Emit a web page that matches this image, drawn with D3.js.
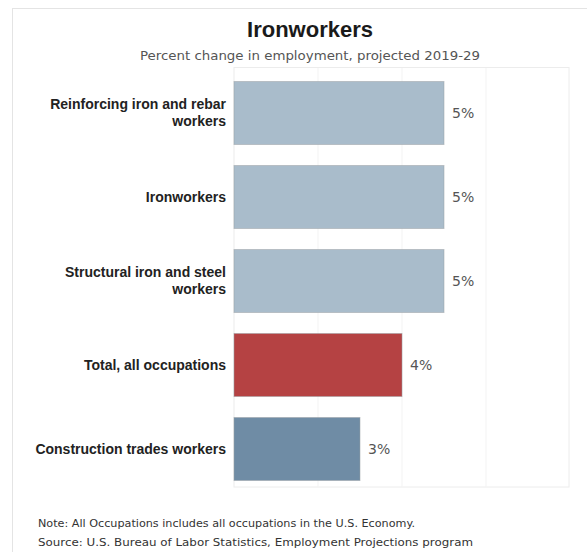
<!DOCTYPE html>
<html><head><meta charset="utf-8">
<script src="https://cdn.jsdelivr.net/npm/d3@7"></script>
<style>body{margin:0;background:#fff;} svg{display:block;}</style>
</head><body>
<script>
const categories = [
  ["Reinforcing iron and rebar", "workers"],
  ["Ironworkers"],
  ["Structural iron and steel", "workers"],
  ["Total, all occupations"],
  ["Construction trades workers"]
];
const values = [5, 5, 5, 4, 3];
const valueLabels = ["5%", "5%", "5%", "4%", "3%"];
const barColors = ["#a9bccb", "#a9bccb", "#a9bccb", "#b54243", "#6f8ca5"];
const gridTicks = [2, 4, 6];

const W = 587, H = 552;
const svg = d3.select("body").append("svg").attr("width", W).attr("height", H);

// outer frame
svg.append("rect").attr("x", 12.5).attr("y", 8.5).attr("width", 600).attr("height", 600)
  .attr("fill", "none").attr("stroke", "#e4e4e4");

const x = d3.scaleLinear().domain([0, 8]).range([234, 570]);
const y = d3.scaleBand().domain(d3.range(categories.length)).range([71, 491])
  .paddingInner(0.25).paddingOuter(0.125);

// plot frame
svg.append("rect").attr("x", 234).attr("y", 67.5).attr("width", 335).attr("height", 419.5)
  .attr("fill", "none").attr("stroke", "#ececec");

svg.append("g").selectAll("line").data(gridTicks).join("line")
  .attr("x1", d => x(d)).attr("x2", d => x(d)).attr("y1", 68).attr("y2", 487)
  .attr("stroke", "#f3f3f3");

svg.append("text").attr("x", 310).attr("y", 37).attr("text-anchor", "middle")
  .attr("font-family", "Liberation Sans, Arial, sans-serif").attr("font-weight", "bold")
  .attr("font-size", 22).attr("fill", "#1a1a1a").text("Ironworkers");
svg.append("text").attr("x", 310).attr("y", 60).attr("text-anchor", "middle")
  .attr("font-family", "DejaVu Sans, sans-serif")
  .attr("font-size", 13).attr("fill", "#555")
  .attr("textLength", 340).attr("lengthAdjust", "spacingAndGlyphs")
  .text("Percent change in employment, projected 2019-29");

svg.append("g").selectAll("rect").data(values).join("rect")
  .attr("x", x(0)).attr("y", (d, i) => y(i)).attr("height", y.bandwidth())
  .attr("width", d => x(d) - x(0))
  .attr("fill", (d, i) => barColors[i])
  .attr("stroke", "#9a9fa4").attr("stroke-opacity", 0.5);

svg.append("g").selectAll("text").data(values).join("text")
  .attr("x", d => x(d) + 8).attr("y", (d, i) => y(i) + y.bandwidth() / 2 + 5)
  .attr("font-family", "DejaVu Sans, sans-serif").attr("font-size", 14)
  .attr("fill", "#555").text((d, i) => valueLabels[i]);

const lab = svg.append("g").selectAll("text").data(categories).join("text")
  .attr("text-anchor", "end")
  .attr("font-family", "Liberation Sans, Arial, sans-serif").attr("font-weight", "bold")
  .attr("font-size", 14).attr("fill", "#222");
lab.each(function(lines, i) {
  const cy = y(i) + y.bandwidth() / 2;
  const lh = 16.5;
  const y0 = cy - (lines.length - 1) * lh / 2 + 4.5;
  d3.select(this).selectAll("tspan").data(lines).join("tspan")
    .attr("x", 226).attr("y", (d, j) => y0 + j * lh).text(d => d);
});

svg.append("text").attr("x", 38).attr("y", 527)
  .attr("font-family", "DejaVu Sans, sans-serif").attr("font-size", 11)
  .attr("textLength", 377).attr("lengthAdjust", "spacingAndGlyphs")
  .attr("fill", "#333").text("Note: All Occupations includes all occupations in the U.S. Economy.");
svg.append("text").attr("x", 38).attr("y", 546)
  .attr("font-family", "DejaVu Sans, sans-serif").attr("font-size", 11)
  .attr("textLength", 435).attr("lengthAdjust", "spacingAndGlyphs")
  .attr("fill", "#333").text("Source: U.S. Bureau of Labor Statistics, Employment Projections program");
</script>
</body></html>
